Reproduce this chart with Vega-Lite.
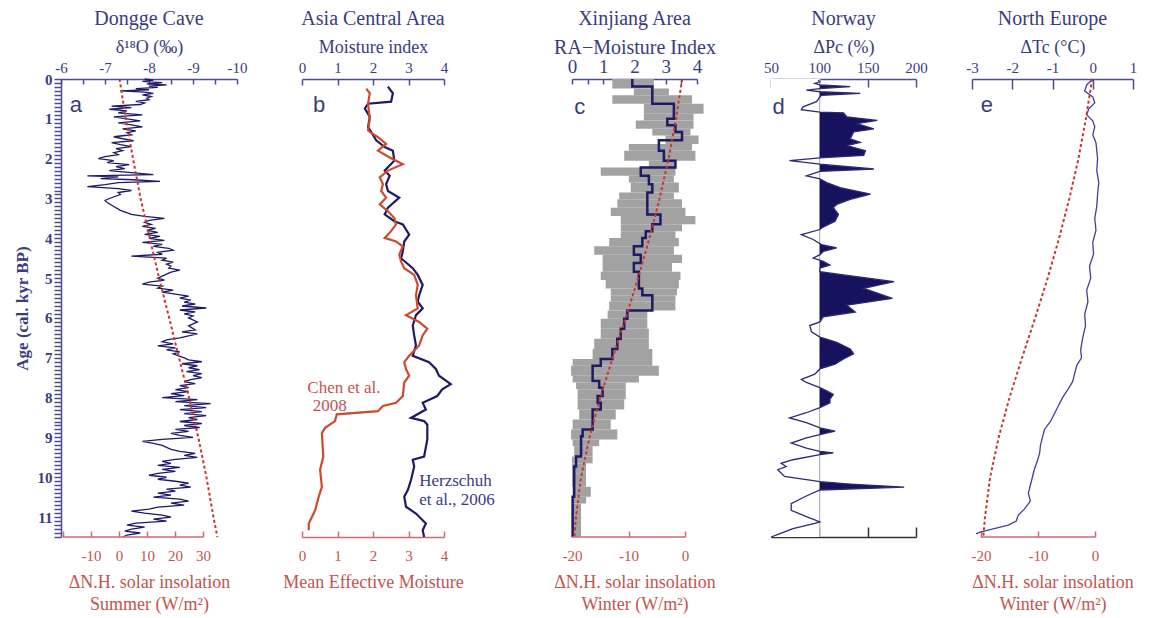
{
"$schema":"https://vega.github.io/schema/vega-lite/v6.json",
"background":"white",
"padding":{"left":13,"top":9,"right":5,"bottom":5},
"config":{
 "font":"Liberation Serif",
 "view":{"stroke":null},
 "axis":{"grid":false,"labelFont":"Liberation Serif","titleFont":"Liberation Serif","titleFontWeight":"normal","labelFlush":false,"labelOverlap":false,"domainWidth":1.5,"tickWidth":1.5,"zindex":1,"labelFontSize":15,"titleFontSize":18},
 "axisTop":{"domainColor":"#4b4d8e","tickColor":"#4b4d8e","labelColor":"#3a3c7c","titleColor":"#3a3c7c","tickSize":-6,"labelPadding":10,"titlePadding":4},
 "axisBottom":{"domainColor":"#d06a78","tickColor":"#d06a78","labelColor":"#c25450","titleColor":"#c25450","tickSize":-6,"labelPadding":17,"titlePadding":10,"titleLineHeight":22},
 "axisLeft":{"domainColor":"#4b4d8e","tickColor":"#4b4d8e","labelColor":"#3a3c7c","titleColor":"#3a3c7c"},
 "title":{"font":"Liberation Serif","fontSize":20,"fontWeight":"normal","color":"#3a3c7c","offset":9,"anchor":"middle"}
},
"datasets":{
 "dongge":[
  {"age":0,"d18O":-7.9},{"age":0.03,"d18O":-8.1},{"age":0.06,"d18O":-7.85},{"age":0.09,"d18O":-8.3},{"age":0.12,"d18O":-7.95},{"age":0.15,"d18O":-8.4},{"age":0.18,"d18O":-8.0},{"age":0.21,"d18O":-8.2},{"age":0.24,"d18O":-7.7},{"age":0.27,"d18O":-8.0},{"age":0.3,"d18O":-7.35},{"age":0.33,"d18O":-7.9},{"age":0.36,"d18O":-8.1},{"age":0.4,"d18O":-7.85},{"age":0.44,"d18O":-8.05},{"age":0.48,"d18O":-7.95},{"age":0.52,"d18O":-8.0},{"age":0.56,"d18O":-7.7},{"age":0.6,"d18O":-7.9},{"age":0.64,"d18O":-7.8},{"age":0.68,"d18O":-7.15},{"age":0.72,"d18O":-7.6},{"age":0.76,"d18O":-7.1},{"age":0.8,"d18O":-7.5},{"age":0.85,"d18O":-7.3},{"age":0.9,"d18O":-7.85},{"age":0.95,"d18O":-7.2},{"age":1.0,"d18O":-7.5},{"age":1.05,"d18O":-7.8},{"age":1.1,"d18O":-7.3},{"age":1.15,"d18O":-7.6},{"age":1.2,"d18O":-7.85},{"age":1.25,"d18O":-7.4},{"age":1.3,"d18O":-7.7},{"age":1.35,"d18O":-7.5},{"age":1.4,"d18O":-7.6},{"age":1.45,"d18O":-7.2},{"age":1.5,"d18O":-7.4},{"age":1.55,"d18O":-7.65},{"age":1.6,"d18O":-7.15},{"age":1.65,"d18O":-7.35},{"age":1.7,"d18O":-7.6},{"age":1.75,"d18O":-7.25},{"age":1.8,"d18O":-7.4},{"age":1.85,"d18O":-7.2},{"age":1.9,"d18O":-7.3},{"age":1.95,"d18O":-7.0},{"age":2.0,"d18O":-6.85},{"age":2.05,"d18O":-7.2},{"age":2.1,"d18O":-7.05},{"age":2.15,"d18O":-7.55},{"age":2.2,"d18O":-7.25},{"age":2.25,"d18O":-7.45},{"age":2.3,"d18O":-7.1},{"age":2.35,"d18O":-7.6},{"age":2.4,"d18O":-8.1},{"age":2.43,"d18O":-6.6},{"age":2.46,"d18O":-7.3},{"age":2.5,"d18O":-6.9},{"age":2.53,"d18O":-7.65},{"age":2.57,"d18O":-8.25},{"age":2.6,"d18O":-7.3},{"age":2.65,"d18O":-7.0},{"age":2.7,"d18O":-6.6},{"age":2.75,"d18O":-7.3},{"age":2.8,"d18O":-7.6},{"age":2.85,"d18O":-7.3},{"age":2.9,"d18O":-7.35},{"age":3.0,"d18O":-7.1},{"age":3.05,"d18O":-7.0},{"age":3.1,"d18O":-7.05},{"age":3.2,"d18O":-7.2},{"age":3.3,"d18O":-7.35},{"age":3.4,"d18O":-7.6},{"age":3.45,"d18O":-7.9},{"age":3.5,"d18O":-8.35},{"age":3.55,"d18O":-8.0},{"age":3.6,"d18O":-7.9},{"age":3.65,"d18O":-8.05},{"age":3.7,"d18O":-7.85},{"age":3.75,"d18O":-8.15},{"age":3.8,"d18O":-7.95},{"age":3.85,"d18O":-8.2},{"age":3.9,"d18O":-7.9},{"age":3.95,"d18O":-8.25},{"age":4.0,"d18O":-8.0},{"age":4.05,"d18O":-8.35},{"age":4.1,"d18O":-7.85},{"age":4.15,"d18O":-8.3},{"age":4.2,"d18O":-8.1},{"age":4.25,"d18O":-8.45},{"age":4.3,"d18O":-8.55},{"age":4.35,"d18O":-8.2},{"age":4.4,"d18O":-8.3},{"age":4.45,"d18O":-7.6},{"age":4.5,"d18O":-8.4},{"age":4.55,"d18O":-8.3},{"age":4.6,"d18O":-8.55},{"age":4.65,"d18O":-8.4},{"age":4.7,"d18O":-8.5},{"age":4.75,"d18O":-8.45},{"age":4.8,"d18O":-8.7},{"age":4.85,"d18O":-8.5},{"age":4.9,"d18O":-8.4},{"age":4.95,"d18O":-8.3},{"age":5.0,"d18O":-8.2},{"age":5.05,"d18O":-8.35},{"age":5.1,"d18O":-8.0},{"age":5.15,"d18O":-7.85},{"age":5.2,"d18O":-8.3},{"age":5.25,"d18O":-8.2},{"age":5.3,"d18O":-8.55},{"age":5.35,"d18O":-8.3},{"age":5.4,"d18O":-8.6},{"age":5.45,"d18O":-8.9},{"age":5.5,"d18O":-8.7},{"age":5.55,"d18O":-8.95},{"age":5.6,"d18O":-8.8},{"age":5.65,"d18O":-9.05},{"age":5.7,"d18O":-8.75},{"age":5.75,"d18O":-9.3},{"age":5.8,"d18O":-8.7},{"age":5.85,"d18O":-9.05},{"age":5.9,"d18O":-8.8},{"age":5.95,"d18O":-9.0},{"age":6.0,"d18O":-8.9},{"age":6.1,"d18O":-9.1},{"age":6.2,"d18O":-8.9},{"age":6.3,"d18O":-9.05},{"age":6.35,"d18O":-8.75},{"age":6.4,"d18O":-9.1},{"age":6.5,"d18O":-8.7},{"age":6.55,"d18O":-8.4},{"age":6.6,"d18O":-8.3},{"age":6.65,"d18O":-8.55},{"age":6.7,"d18O":-8.2},{"age":6.75,"d18O":-8.6},{"age":6.8,"d18O":-8.4},{"age":6.85,"d18O":-8.7},{"age":6.9,"d18O":-8.55},{"age":7.0,"d18O":-8.8},{"age":7.05,"d18O":-8.9},{"age":7.1,"d18O":-9.2},{"age":7.15,"d18O":-8.75},{"age":7.2,"d18O":-9.1},{"age":7.25,"d18O":-8.9},{"age":7.3,"d18O":-9.15},{"age":7.35,"d18O":-8.85},{"age":7.4,"d18O":-9.2},{"age":7.45,"d18O":-9.0},{"age":7.5,"d18O":-9.2},{"age":7.55,"d18O":-8.95},{"age":7.6,"d18O":-8.8},{"age":7.65,"d18O":-9.05},{"age":7.7,"d18O":-8.7},{"age":7.75,"d18O":-8.9},{"age":7.8,"d18O":-8.6},{"age":7.85,"d18O":-8.9},{"age":7.9,"d18O":-8.5},{"age":7.95,"d18O":-8.8},{"age":8.0,"d18O":-8.3},{"age":8.05,"d18O":-9.1},{"age":8.1,"d18O":-8.6},{"age":8.15,"d18O":-9.4},{"age":8.2,"d18O":-8.8},{"age":8.25,"d18O":-9.3},{"age":8.3,"d18O":-8.7},{"age":8.35,"d18O":-9.2},{"age":8.4,"d18O":-8.8},{"age":8.45,"d18O":-9.3},{"age":8.5,"d18O":-8.9},{"age":8.55,"d18O":-9.1},{"age":8.6,"d18O":-8.7},{"age":8.65,"d18O":-9.2},{"age":8.7,"d18O":-8.8},{"age":8.75,"d18O":-9.15},{"age":8.8,"d18O":-8.6},{"age":8.85,"d18O":-8.9},{"age":8.9,"d18O":-8.5},{"age":8.95,"d18O":-8.7},{"age":9.0,"d18O":-9.0},{"age":9.05,"d18O":-8.3},{"age":9.1,"d18O":-7.85},{"age":9.15,"d18O":-8.1},{"age":9.2,"d18O":-8.3},{"age":9.3,"d18O":-8.5},{"age":9.35,"d18O":-8.7},{"age":9.4,"d18O":-9.05},{"age":9.45,"d18O":-8.8},{"age":9.5,"d18O":-9.1},{"age":9.55,"d18O":-8.6},{"age":9.6,"d18O":-8.3},{"age":9.65,"d18O":-8.5},{"age":9.7,"d18O":-8.2},{"age":9.75,"d18O":-8.7},{"age":9.8,"d18O":-8.3},{"age":9.85,"d18O":-8.6},{"age":9.9,"d18O":-8.2},{"age":9.95,"d18O":-8.0},{"age":10.0,"d18O":-8.4},{"age":10.05,"d18O":-8.2},{"age":10.1,"d18O":-8.6},{"age":10.15,"d18O":-8.9},{"age":10.2,"d18O":-8.7},{"age":10.25,"d18O":-8.95},{"age":10.3,"d18O":-8.4},{"age":10.35,"d18O":-8.6},{"age":10.4,"d18O":-8.2},{"age":10.45,"d18O":-8.5},{"age":10.5,"d18O":-8.1},{"age":10.55,"d18O":-8.7},{"age":10.6,"d18O":-8.9},{"age":10.65,"d18O":-8.5},{"age":10.7,"d18O":-8.8},{"age":10.75,"d18O":-8.2},{"age":10.8,"d18O":-8.0},{"age":10.85,"d18O":-7.6},{"age":10.9,"d18O":-7.9},{"age":10.95,"d18O":-8.3},{"age":11.0,"d18O":-8.5},{"age":11.05,"d18O":-8.1},{"age":11.1,"d18O":-8.4},{"age":11.15,"d18O":-7.7},{"age":11.2,"d18O":-7.5},{"age":11.25,"d18O":-7.9},{"age":11.3,"d18O":-7.6},{"age":11.35,"d18O":-7.45},{"age":11.4,"d18O":-7.8},{"age":11.45,"d18O":-7.5},{"age":11.5,"d18O":-7.4}
 ],
 "summer":[
  {"age":0,"ins":0.2},{"age":1,"ins":2.4},{"age":2,"ins":5.0},{"age":3,"ins":7.7},{"age":4,"ins":11.0},{"age":5,"ins":14.3},{"age":6,"ins":17.9},{"age":7,"ins":21.4},{"age":8,"ins":25.0},{"age":9,"ins":28.3},{"age":10,"ins":31.2},{"age":11,"ins":33.7},{"age":11.5,"ins":35.1}
 ],
 "herz":[
  {"age":0.19,"mi":2.42},{"age":0.36,"mi":2.56},{"age":0.57,"mi":2.51},{"age":0.62,"mi":1.86},{"age":0.74,"mi":1.77},{"age":0.95,"mi":1.91},{"age":1.21,"mi":1.86},{"age":1.33,"mi":1.95},{"age":1.54,"mi":2.09},{"age":1.71,"mi":2.33},{"age":1.8,"mi":2.56},{"age":2.05,"mi":2.6},{"age":2.3,"mi":2.33},{"age":2.43,"mi":2.47},{"age":2.64,"mi":2.37},{"age":2.81,"mi":2.42},{"age":2.98,"mi":2.74},{"age":3.23,"mi":2.42},{"age":3.4,"mi":2.33},{"age":3.57,"mi":2.6},{"age":3.65,"mi":2.84},{"age":3.91,"mi":3.02},{"age":4.08,"mi":2.88},{"age":4.33,"mi":2.84},{"age":4.5,"mi":2.79},{"age":4.75,"mi":3.12},{"age":4.92,"mi":3.26},{"age":5.17,"mi":3.4},{"age":5.43,"mi":3.3},{"age":5.59,"mi":3.26},{"age":5.76,"mi":3.4},{"age":5.93,"mi":3.21},{"age":6.19,"mi":3.12},{"age":6.44,"mi":3.16},{"age":6.69,"mi":3.21},{"age":6.95,"mi":3.12},{"age":7.11,"mi":3.58},{"age":7.28,"mi":3.77},{"age":7.45,"mi":3.86},{"age":7.66,"mi":4.19},{"age":7.79,"mi":3.95},{"age":7.96,"mi":3.81},{"age":8.13,"mi":3.4},{"age":8.3,"mi":3.49},{"age":8.51,"mi":3.07},{"age":8.59,"mi":3.44},{"age":8.68,"mi":3.53},{"age":9.05,"mi":3.53},{"age":9.48,"mi":3.44},{"age":9.56,"mi":3.12},{"age":9.73,"mi":3.16},{"age":10.07,"mi":3.07},{"age":10.32,"mi":2.98},{"age":10.49,"mi":2.88},{"age":10.74,"mi":2.93},{"age":10.91,"mi":3.21},{"age":11.16,"mi":3.49},{"age":11.33,"mi":3.4},{"age":11.5,"mi":3.44}
 ],
 "chen":[
  {"age":0.24,"mem":1.81},{"age":0.36,"mem":1.91},{"age":0.62,"mem":1.86},{"age":1.0,"mem":1.91},{"age":1.29,"mem":1.86},{"age":1.33,"mem":1.91},{"age":1.46,"mem":2.14},{"age":1.63,"mem":2.37},{"age":1.8,"mem":2.14},{"age":1.97,"mem":2.47},{"age":2.14,"mem":2.84},{"age":2.3,"mem":2.42},{"age":2.47,"mem":2.19},{"age":2.64,"mem":2.28},{"age":2.81,"mem":2.23},{"age":2.98,"mem":2.37},{"age":3.15,"mem":2.19},{"age":3.32,"mem":2.42},{"age":3.49,"mem":2.6},{"age":3.65,"mem":2.65},{"age":3.82,"mem":2.51},{"age":3.99,"mem":2.33},{"age":4.08,"mem":2.65},{"age":4.2,"mem":2.84},{"age":4.41,"mem":2.74},{"age":4.58,"mem":2.79},{"age":4.75,"mem":2.88},{"age":4.92,"mem":3.16},{"age":5.17,"mem":3.26},{"age":5.43,"mem":3.21},{"age":5.76,"mem":3.26},{"age":5.93,"mem":2.93},{"age":6.1,"mem":3.3},{"age":6.27,"mem":3.53},{"age":6.44,"mem":3.4},{"age":6.69,"mem":3.3},{"age":6.95,"mem":3.02},{"age":7.11,"mem":2.88},{"age":7.28,"mem":2.93},{"age":7.45,"mem":3.02},{"age":7.62,"mem":2.88},{"age":7.96,"mem":2.84},{"age":8.13,"mem":2.65},{"age":8.21,"mem":2.28},{"age":8.34,"mem":2.14},{"age":8.42,"mem":0.98},{"age":8.59,"mem":0.93},{"age":8.76,"mem":0.65},{"age":8.89,"mem":0.56},{"age":9.48,"mem":0.6},{"age":9.81,"mem":0.51},{"age":10.24,"mem":0.56},{"age":10.49,"mem":0.47},{"age":10.83,"mem":0.37},{"age":11.16,"mem":0.19},{"age":11.33,"mem":0.19}
 ],
 "xjband":[
  {"a0":0,"a1":0.24,"lo":1.29,"hi":2.62},{"a0":0.24,"a1":0.41,"lo":1.98,"hi":3.1},{"a0":0.41,"a1":0.62,"lo":1.29,"hi":3.84},{"a0":0.62,"a1":0.87,"lo":2.3,"hi":4.21},{"a0":0.87,"a1":1.04,"lo":2.3,"hi":3.89},{"a0":1.04,"a1":1.25,"lo":2.04,"hi":3.89},{"a0":1.25,"a1":1.42,"lo":2.57,"hi":3.79},{"a0":1.42,"a1":1.63,"lo":2.99,"hi":4.05},{"a0":1.63,"a1":1.8,"lo":1.82,"hi":3.84},{"a0":1.8,"a1":2.05,"lo":1.67,"hi":3.95},{"a0":2.05,"a1":2.22,"lo":2.46,"hi":3.31},{"a0":2.22,"a1":2.43,"lo":0.92,"hi":3.31},{"a0":2.43,"a1":2.6,"lo":1.82,"hi":3.26},{"a0":2.6,"a1":2.85,"lo":1.88,"hi":3.42},{"a0":2.85,"a1":3.02,"lo":1.51,"hi":3.26},{"a0":3.02,"a1":3.23,"lo":1.45,"hi":3.52},{"a0":3.23,"a1":3.44,"lo":1.24,"hi":3.63},{"a0":3.44,"a1":3.65,"lo":1.56,"hi":3.95},{"a0":3.65,"a1":3.82,"lo":1.56,"hi":3.52},{"a0":3.82,"a1":3.99,"lo":1.56,"hi":3.31},{"a0":3.99,"a1":4.2,"lo":1.19,"hi":3.42},{"a0":4.2,"a1":4.41,"lo":0.71,"hi":3.26},{"a0":4.41,"a1":4.62,"lo":0.98,"hi":3.52},{"a0":4.62,"a1":4.84,"lo":0.98,"hi":3.2},{"a0":4.84,"a1":5.05,"lo":0.92,"hi":3.47},{"a0":5.05,"a1":5.26,"lo":1.08,"hi":3.42},{"a0":5.26,"a1":5.43,"lo":1.24,"hi":3.36},{"a0":5.43,"a1":5.59,"lo":1.24,"hi":3.31},{"a0":5.59,"a1":5.81,"lo":1.19,"hi":3.31},{"a0":5.81,"a1":6.02,"lo":1.14,"hi":2.41},{"a0":6.02,"a1":6.27,"lo":0.92,"hi":2.41},{"a0":6.27,"a1":6.52,"lo":0.92,"hi":2.46},{"a0":6.52,"a1":6.78,"lo":0.71,"hi":2.46},{"a0":6.78,"a1":7.03,"lo":0.66,"hi":2.57},{"a0":7.03,"a1":7.2,"lo":0.02,"hi":2.57},{"a0":7.2,"a1":7.45,"lo":-0.03,"hi":2.78},{"a0":7.45,"a1":7.62,"lo":0.02,"hi":2.14},{"a0":7.62,"a1":7.79,"lo":0.13,"hi":1.72},{"a0":7.79,"a1":8.04,"lo":0.18,"hi":1.72},{"a0":8.04,"a1":8.3,"lo":0.18,"hi":1.67},{"a0":8.3,"a1":8.55,"lo":0.23,"hi":1.4},{"a0":8.55,"a1":8.8,"lo":0.02,"hi":1.24},{"a0":8.8,"a1":9.05,"lo":-0.03,"hi":1.45},{"a0":9.05,"a1":9.22,"lo":0.02,"hi":0.87},{"a0":9.22,"a1":9.48,"lo":0.07,"hi":0.66},{"a0":9.48,"a1":9.65,"lo":0.0,"hi":0.66},{"a0":9.65,"a1":9.9,"lo":0.0,"hi":0.45},{"a0":9.9,"a1":10.24,"lo":0.0,"hi":0.45},{"a0":10.24,"a1":10.49,"lo":0.02,"hi":0.6},{"a0":10.49,"a1":10.66,"lo":0.02,"hi":0.45},{"a0":10.66,"a1":11.5,"lo":0.0,"hi":0.29}
 ],
 "xjra":[
  {"age":0,"ra":1.93},{"age":0.19,"ra":2.57},{"age":0.62,"ra":3.26},{"age":1.0,"ra":3.05},{"age":1.16,"ra":3.31},{"age":1.33,"ra":3.52},{"age":1.54,"ra":2.78},{"age":1.8,"ra":2.94},{"age":2.05,"ra":3.31},{"age":2.22,"ra":2.2},{"age":2.43,"ra":2.46},{"age":2.64,"ra":2.57},{"age":2.85,"ra":2.41},{"age":3.4,"ra":2.83},{"age":3.65,"ra":2.57},{"age":3.82,"ra":2.36},{"age":3.99,"ra":2.25},{"age":4.2,"ra":1.98},{"age":4.41,"ra":2.2},{"age":4.62,"ra":1.98},{"age":4.84,"ra":2.14},{"age":5.26,"ra":2.25},{"age":5.43,"ra":2.57},{"age":5.81,"ra":1.77},{"age":6.02,"ra":1.67},{"age":6.27,"ra":1.56},{"age":6.52,"ra":1.45},{"age":6.78,"ra":1.29},{"age":7.03,"ra":0.92},{"age":7.2,"ra":0.66},{"age":7.58,"ra":0.87},{"age":7.75,"ra":0.98},{"age":7.96,"ra":0.82},{"age":8.13,"ra":0.92},{"age":8.3,"ra":0.66},{"age":8.8,"ra":0.34},{"age":8.97,"ra":0.29},{"age":9.48,"ra":0.13},{"age":9.73,"ra":0.07},{"age":10.49,"ra":0.02},{"age":11.5,"ra":0.02}
 ],
 "winter":[
  {"age":0,"ins":-0.5},{"age":1,"ins":-1.6},{"age":2,"ins":-2.9},{"age":3,"ins":-4.5},{"age":4,"ins":-6.3},{"age":5,"ins":-8.3},{"age":6,"ins":-10.5},{"age":7,"ins":-12.8},{"age":8,"ins":-15.0},{"age":9,"ins":-16.9},{"age":10,"ins":-18.4},{"age":11,"ins":-19.3},{"age":11.5,"ins":-19.6}
 ],
 "norway":[
  {"age":0.03,"p":98.8},{"age":0.07,"p":100.6},{"age":0.11,"p":95.3},{"age":0.15,"p":100.6},{"age":0.19,"p":132.0},{"age":0.24,"p":100.6},{"age":0.28,"p":86.6},{"age":0.32,"p":100.6},{"age":0.36,"p":142.4},{"age":0.41,"p":102.3},{"age":0.45,"p":100.6},{"age":0.57,"p":97.1},{"age":0.7,"p":83.1},{"age":0.77,"p":81.4},{"age":0.83,"p":100.6},{"age":0.85,"p":125.0},{"age":0.95,"p":128.5},{"age":1.04,"p":159.9},{"age":1.12,"p":138.9},{"age":1.25,"p":156.4},{"age":1.33,"p":135.5},{"age":1.5,"p":132.0},{"age":1.59,"p":142.4},{"age":1.67,"p":128.5},{"age":1.8,"p":147.7},{"age":1.92,"p":145.9},{"age":1.98,"p":100.6},{"age":2.05,"p":69.2},{"age":2.14,"p":100.6},{"age":2.26,"p":156.4},{"age":2.32,"p":100.6},{"age":2.43,"p":86.6},{"age":2.51,"p":100.6},{"age":2.6,"p":107.6},{"age":2.73,"p":121.5},{"age":2.89,"p":152.9},{"age":3.02,"p":132.0},{"age":3.15,"p":118.0},{"age":3.23,"p":114.5},{"age":3.4,"p":119.8},{"age":3.57,"p":116.3},{"age":3.74,"p":102.3},{"age":3.78,"p":100.6},{"age":3.91,"p":81.4},{"age":4.03,"p":93.6},{"age":4.16,"p":102.3},{"age":4.24,"p":118.0},{"age":4.33,"p":104.1},{"age":4.41,"p":100.6},{"age":4.5,"p":93.6},{"age":4.58,"p":104.1},{"age":4.67,"p":111.0},{"age":4.75,"p":100.6},{"age":4.84,"p":100.6},{"age":4.92,"p":125.0},{"age":5.09,"p":177.3},{"age":5.26,"p":145.9},{"age":5.51,"p":175.6},{"age":5.68,"p":128.5},{"age":5.85,"p":137.2},{"age":5.97,"p":104.1},{"age":6.1,"p":100.6},{"age":6.19,"p":90.1},{"age":6.35,"p":91.9},{"age":6.48,"p":100.6},{"age":6.61,"p":118.0},{"age":6.78,"p":132.0},{"age":6.9,"p":135.5},{"age":7.03,"p":125.0},{"age":7.16,"p":116.3},{"age":7.28,"p":100.6},{"age":7.41,"p":95.3},{"age":7.54,"p":81.4},{"age":7.62,"p":86.6},{"age":7.75,"p":100.6},{"age":7.83,"p":107.6},{"age":7.92,"p":114.5},{"age":8.04,"p":111.0},{"age":8.13,"p":111.0},{"age":8.25,"p":100.6},{"age":8.38,"p":86.6},{"age":8.51,"p":69.2},{"age":8.63,"p":86.6},{"age":8.76,"p":100.6},{"age":8.84,"p":116.3},{"age":8.93,"p":100.6},{"age":9.01,"p":86.6},{"age":9.14,"p":70.9},{"age":9.27,"p":86.6},{"age":9.35,"p":100.6},{"age":9.39,"p":114.5},{"age":9.43,"p":100.6},{"age":9.56,"p":72.7},{"age":9.65,"p":60.5},{"age":9.73,"p":65.7},{"age":9.81,"p":57.0},{"age":9.98,"p":64.0},{"age":10.11,"p":100.6},{"age":10.17,"p":132.0},{"age":10.25,"p":187.8},{"age":10.32,"p":100.6},{"age":10.49,"p":84.9},{"age":10.66,"p":70.9},{"age":10.83,"p":70.9},{"age":10.99,"p":86.6},{"age":11.12,"p":100.6},{"age":11.16,"p":95.3},{"age":11.29,"p":72.7},{"age":11.42,"p":58.7},{"age":11.5,"p":50.0}
 ],
 "neur":[
  {"age":0,"dT":0.0},{"age":0.15,"dT":-0.15},{"age":0.3,"dT":-0.2},{"age":0.45,"dT":0.0},{"age":0.6,"dT":0.05},{"age":0.75,"dT":-0.1},{"age":0.9,"dT":-0.15},{"age":1.05,"dT":0.0},{"age":1.2,"dT":0.05},{"age":1.4,"dT":0.0},{"age":1.6,"dT":0.08},{"age":1.8,"dT":0.1},{"age":2.0,"dT":0.12},{"age":2.3,"dT":0.1},{"age":2.6,"dT":0.15},{"age":2.9,"dT":0.12},{"age":3.2,"dT":0.1},{"age":3.5,"dT":0.05},{"age":3.8,"dT":0.08},{"age":4.1,"dT":0.0},{"age":4.4,"dT":0.02},{"age":4.7,"dT":-0.08},{"age":5.0,"dT":-0.05},{"age":5.3,"dT":-0.15},{"age":5.6,"dT":-0.12},{"age":5.9,"dT":-0.2},{"age":6.2,"dT":-0.18},{"age":6.5,"dT":-0.25},{"age":6.8,"dT":-0.3},{"age":7.0,"dT":-0.28},{"age":7.2,"dT":-0.4},{"age":7.4,"dT":-0.45},{"age":7.6,"dT":-0.5},{"age":7.8,"dT":-0.62},{"age":8.0,"dT":-0.75},{"age":8.2,"dT":-0.85},{"age":8.4,"dT":-0.95},{"age":8.6,"dT":-1.05},{"age":8.8,"dT":-1.2},{"age":9.0,"dT":-1.25},{"age":9.2,"dT":-1.3},{"age":9.4,"dT":-1.32},{"age":9.6,"dT":-1.38},{"age":9.8,"dT":-1.45},{"age":10.0,"dT":-1.5},{"age":10.2,"dT":-1.55},{"age":10.4,"dT":-1.6},{"age":10.6,"dT":-1.55},{"age":10.8,"dT":-1.7},{"age":10.95,"dT":-1.85},{"age":11.1,"dT":-1.9},{"age":11.2,"dT":-2.1},{"age":11.3,"dT":-2.5},{"age":11.38,"dT":-2.8},{"age":11.42,"dT":-2.9}
 ]
},
"spacing":0,
"bounds":"flush",
"hconcat":[
 {
  "width":176,"height":458,
  "title":{"text":"Dongge Cave"},
  "layer":[
   {"data":{"name":"dongge"},
    "mark":{"type":"line","color":"#1d1a66","strokeWidth":1.3},
    "encoding":{
     "x":{"field":"d18O","type":"quantitative","scale":{"domain":[-10,-6],"reverse":true,"nice":false,"zero":false},
      "axis":{"orient":"top","title":"δ¹⁸O (‰)","values":[-6,-6.5,-7,-7.5,-8,-8.5,-9,-9.5,-10],
       "labelExpr":"datum.value % 1 === 0 ? '' + datum.value : ''","labelOverlap":false,"tickSize":-5,"labelPadding":9}},
     "y":{"field":"age","type":"quantitative","scale":{"domain":[0,11.5],"reverse":true,"nice":false,"zero":false},
      "axis":{"orient":"left","title":"Age (cal. kyr BP)","labelOverlap":false,
       "values":[0,0.1,0.2,0.3,0.4,0.5,0.6,0.7,0.8,0.9,1,1.1,1.2,1.3,1.4,1.5,1.6,1.7,1.8,1.9,2,2.1,2.2,2.3,2.4,2.5,2.6,2.7,2.8,2.9,3,3.1,3.2,3.3,3.4,3.5,3.6,3.7,3.8,3.9,4,4.1,4.2,4.3,4.4,4.5,4.6,4.7,4.8,4.9,5,5.1,5.2,5.3,5.4,5.5,5.6,5.7,5.8,5.9,6,6.1,6.2,6.3,6.4,6.5,6.6,6.7,6.8,6.9,7,7.1,7.2,7.3,7.4,7.5,7.6,7.7,7.8,7.9,8,8.1,8.2,8.3,8.4,8.5,8.6,8.7,8.8,8.9,9,9.1,9.2,9.3,9.4,9.5,9.6,9.7,9.8,9.9,10,10.1,10.2,10.3,10.4,10.5,10.6,10.7,10.8,10.9,11,11.1,11.2,11.3,11.4,11.5],
       "labelExpr":"datum.value % 1 === 0 ? '' + datum.value : ''",
       "ticks":true,"tickSize":7,"tickWidth":1.5,"tickColor":"#4b4d8e","labelFontWeight":"bold","titleFontWeight":"bold","labelPadding":2,"titlePadding":6,"labelFontSize":15,"titleFontSize":17}},
     "order":{"field":"age","type":"quantitative"}}},
   {"data":{"values":[{}]},"mark":{"type":"text","text":"a","font":"Liberation Sans","fontSize":22,"color":"#3a3c7c"},
    "encoding":{
     "x":{"datum":-6.34,"type":"quantitative","scale":{"domain":[-10,-6],"reverse":true,"nice":false,"zero":false},"axis":null},
     "y":{"datum":0.66,"type":"quantitative","scale":{"domain":[0,11.5],"reverse":true,"nice":false,"zero":false},"axis":null}}},
   {"data":{"name":"summer"},"mark":{"type":"line","color":"#c8372d","strokeWidth":2,"strokeDash":[3,2.5]},
    "encoding":{
     "x":{"field":"ins","type":"quantitative","scale":{"domain":[-20.7,42.1],"nice":false,"zero":false},
      "axis":{"orient":"bottom","title":["ΔN.H. solar insolation","Summer (W/m²)"],"values":[-20,-10,0,10,20,30],"labelExpr":"datum.value === -20 ? '' : '' + datum.value","labelOverlap":false,"domain":false}},
     "y":{"field":"age","type":"quantitative","scale":{"domain":[0,11.5],"reverse":true,"nice":false,"zero":false},"axis":null},
     "order":{"field":"age","type":"quantitative"}}},
   {"data":{"values":[{}]},"mark":{"type":"rule","color":"#d06a78","strokeWidth":1.5},
    "encoding":{
     "x":{"datum":-20,"type":"quantitative","scale":{"domain":[-20.7,42.1],"nice":false,"zero":false},"axis":null},
     "x2":{"datum":30},
     "y":{"datum":11.5,"type":"quantitative","scale":{"domain":[0,11.5],"reverse":true,"nice":false,"zero":false},"axis":null}}}
  ],
  "resolve":{"scale":{"x":"independent","y":"independent"}}
 },
 {"width":65,"height":458,"data":{"values":[]},"mark":"point"},
 {
  "width":142,"height":458,
  "title":{"text":"Asia Central Area"},
  "layer":[
   {"data":{"name":"herz"},"mark":{"type":"line","color":"#1d1a66","strokeWidth":2.2},
    "encoding":{
     "x":{"field":"mi","type":"quantitative","scale":{"domain":[0,4],"nice":false,"zero":false},
      "axis":{"orient":"top","title":"Moisture index","values":[0,1,2,3,4],"labelExpr":"'' + datum.value","labelOverlap":false}},
     "y":{"field":"age","type":"quantitative","scale":{"domain":[0,11.5],"reverse":true,"nice":false,"zero":false},"axis":null},
     "order":{"field":"age","type":"quantitative"}}},
   {"data":{"name":"chen"},"mark":{"type":"line","color":"#cc4a2e","strokeWidth":2.2},
    "encoding":{
     "x":{"field":"mem","type":"quantitative","scale":{"domain":[0,4],"nice":false,"zero":false},
      "axis":{"orient":"bottom","title":"Mean Effective Moisture","values":[0,1,2,3,4],"labelExpr":"'' + datum.value","labelOverlap":false}},
     "y":{"field":"age","type":"quantitative","scale":{"domain":[0,11.5],"reverse":true,"nice":false,"zero":false},"axis":null},
     "order":{"field":"age","type":"quantitative"}}},
   {"data":{"values":[{}]},"mark":{"type":"text","text":"b","font":"Liberation Sans","fontSize":22,"color":"#3a3c7c"},
    "encoding":{
     "x":{"datum":0.48,"type":"quantitative","scale":{"domain":[0,4],"nice":false,"zero":false},"axis":null},
     "y":{"datum":0.66,"type":"quantitative","scale":{"domain":[0,11.5],"reverse":true,"nice":false,"zero":false},"axis":null}}},
   {"data":{"values":[{}]},"mark":{"type":"text","text":"Herzschuh","align":"left","fontSize":17,"color":"#3a3c7c"},
    "encoding":{
     "x":{"datum":3.3,"type":"quantitative","scale":{"domain":[0,4],"nice":false,"zero":false},"axis":null},
     "y":{"datum":10.1,"type":"quantitative","scale":{"domain":[0,11.5],"reverse":true,"nice":false,"zero":false},"axis":null}}},
   {"data":{"values":[{}]},"mark":{"type":"text","text":"et al.,  2006","align":"left","fontSize":17,"color":"#3a3c7c"},
    "encoding":{
     "x":{"datum":3.3,"type":"quantitative","scale":{"domain":[0,4],"nice":false,"zero":false},"axis":null},
     "y":{"datum":10.58,"type":"quantitative","scale":{"domain":[0,11.5],"reverse":true,"nice":false,"zero":false},"axis":null}}},
   {"data":{"values":[{}]},"mark":{"type":"text","text":"Chen  et al.","align":"left","fontSize":17,"color":"#c25450"},
    "encoding":{
     "x":{"datum":0.15,"type":"quantitative","scale":{"domain":[0,4],"nice":false,"zero":false},"axis":null},
     "y":{"datum":7.75,"type":"quantitative","scale":{"domain":[0,11.5],"reverse":true,"nice":false,"zero":false},"axis":null}}},
   {"data":{"values":[{}]},"mark":{"type":"text","text":"2008","align":"left","fontSize":17,"color":"#c25450"},
    "encoding":{
     "x":{"datum":0.3,"type":"quantitative","scale":{"domain":[0,4],"nice":false,"zero":false},"axis":null},
     "y":{"datum":8.2,"type":"quantitative","scale":{"domain":[0,11.5],"reverse":true,"nice":false,"zero":false},"axis":null}}}
  ],
  "resolve":{"scale":{"x":"independent","y":"independent"}}
 },
 {"width":128,"height":458,"data":{"values":[]},"mark":"point"},
 {
  "width":125,"height":458,
  "title":{"text":"Xinjiang Area","offset":8},
  "layer":[
   {"data":{"name":"xjband"},"mark":{"type":"rect","color":"#a2a2a2"},
    "encoding":{
     "x":{"field":"lo","type":"quantitative","scale":{"domain":[0,4],"nice":false,"zero":false},"axis":null},
     "x2":{"field":"hi"},
     "y":{"field":"a0","type":"quantitative","scale":{"domain":[0,11.5],"reverse":true,"nice":false,"zero":false},"axis":null},
     "y2":{"field":"a1"}}},
   {"data":{"name":"xjra"},"mark":{"type":"line","color":"#1d1a66","strokeWidth":2.5,"interpolate":"step-before"},
    "encoding":{
     "x":{"field":"ra","type":"quantitative","scale":{"domain":[0,4],"nice":false,"zero":false},
      "axis":{"orient":"top","title":"RA−Moisture Index","values":[0,0.5,1,1.5,2,2.5,3,3.5,4],
       "labelExpr":"datum.value % 1 === 0 ? '' + datum.value : ''","labelOverlap":false,
       "tickSize":-5,"labelPadding":8,"labelFontSize":19,"titleFontSize":20,"titlePadding":0}},
     "y":{"field":"age","type":"quantitative","scale":{"domain":[0,11.5],"reverse":true,"nice":false,"zero":false},"axis":null},
     "order":{"field":"age","type":"quantitative"}}},
   {"data":{"values":[{}]},"mark":{"type":"text","text":"c","font":"Liberation Sans","fontSize":22,"color":"#3a3c7c"},
    "encoding":{
     "x":{"datum":0.25,"type":"quantitative","scale":{"domain":[0,4],"nice":false,"zero":false},"axis":null},
     "y":{"datum":0.7,"type":"quantitative","scale":{"domain":[0,11.5],"reverse":true,"nice":false,"zero":false},"axis":null}}},
   {"data":{"name":"winter"},"mark":{"type":"line","color":"#c8372d","strokeWidth":2,"strokeDash":[3,2.5]},
    "encoding":{
     "x":{"field":"ins","type":"quantitative","scale":{"domain":[-20,2.12],"nice":false,"zero":false},
      "axis":{"orient":"bottom","title":["ΔN.H. solar insolation","Winter (W/m²)"],"values":[-20,-10,0],"labelExpr":"'' + datum.value","labelOverlap":false,"domain":false}},
     "y":{"field":"age","type":"quantitative","scale":{"domain":[0,11.5],"reverse":true,"nice":false,"zero":false},"axis":null},
     "order":{"field":"age","type":"quantitative"}}},
   {"data":{"values":[{}]},"mark":{"type":"rule","color":"#d06a78","strokeWidth":1.5},
    "encoding":{
     "x":{"datum":-20,"type":"quantitative","scale":{"domain":[-20,2.12],"nice":false,"zero":false},"axis":null},
     "x2":{"datum":0},
     "y":{"datum":11.5,"type":"quantitative","scale":{"domain":[0,11.5],"reverse":true,"nice":false,"zero":false},"axis":null}}}
  ],
  "resolve":{"scale":{"x":"independent","y":"independent"}}
 },
 {"width":74,"height":458,"data":{"values":[]},"mark":"point"},
 {
  "width":145,"height":458,
  "title":{"text":"Norway"},
  "layer":[
   {"data":{"values":[{}]},"mark":{"type":"rule","color":"#cccccc","strokeWidth":2},
    "encoding":{
     "x":{"datum":100,"type":"quantitative","scale":{"domain":[50,200],"nice":false,"zero":false},
      "axis":{"orient":"bottom","values":[100,150,200],"labels":false,"title":null,"domainColor":"#333333","tickColor":"#333333","tickSize":-10}},
     "y":{"datum":0,"type":"quantitative","scale":{"domain":[0,11.5],"reverse":true,"nice":false,"zero":false},"axis":null},
     "y2":{"datum":11.5}}},
   {"data":{"name":"norway"},"mark":{"type":"area","color":"#17125e","orient":"horizontal"},
    "encoding":{
     "x":{"field":"p","type":"quantitative","scale":{"domain":[50,200],"nice":false,"zero":false},"axis":null},
     "x2":{"datum":100},
     "y":{"field":"age","type":"quantitative","scale":{"domain":[0,11.5],"reverse":true,"nice":false,"zero":false},"axis":null}}},
   {"data":{"values":[{}]},"mark":{"type":"rect","color":"white"},
    "encoding":{
     "x":{"datum":50,"type":"quantitative","scale":{"domain":[50,200],"nice":false,"zero":false},"axis":null},
     "x2":{"datum":100},
     "y":{"datum":0,"type":"quantitative","scale":{"domain":[0,11.5],"reverse":true,"nice":false,"zero":false},"axis":null},
     "y2":{"datum":11.5}}},
   {"data":{"name":"norway"},"mark":{"type":"line","color":"#2c2b72","strokeWidth":1.3},
    "encoding":{
     "x":{"field":"p","type":"quantitative","scale":{"domain":[50,200],"nice":false,"zero":false},
      "axis":{"orient":"top","title":"ΔPc (%)","values":[50,100,150,200],"labelExpr":"'' + datum.value","labelOverlap":false,"tickSize":-8,"labelPadding":12}},
     "y":{"field":"age","type":"quantitative","scale":{"domain":[0,11.5],"reverse":true,"nice":false,"zero":false},"axis":null},
     "order":{"field":"age","type":"quantitative"}}},
   {"data":{"values":[{}]},"mark":{"type":"text","text":"d","font":"Liberation Sans","fontSize":22,"color":"#3a3c7c"},
    "encoding":{
     "x":{"datum":58,"type":"quantitative","scale":{"domain":[50,200],"nice":false,"zero":false},"axis":null},
     "y":{"datum":0.7,"type":"quantitative","scale":{"domain":[0,11.5],"reverse":true,"nice":false,"zero":false},"axis":null}}}
  ],
  "resolve":{"scale":{"x":"independent","y":"independent"}}
 },
 {"width":56,"height":458,"data":{"values":[]},"mark":"point"},
 {
  "width":161,"height":458,
  "title":{"text":"North Europe"},
  "layer":[
   {"data":{"name":"neur"},"mark":{"type":"line","color":"#40409a","strokeWidth":1.3},
    "encoding":{
     "x":{"field":"dT","type":"quantitative","scale":{"domain":[-3,1],"nice":false,"zero":false},
      "axis":{"orient":"top","title":"ΔTc (°C)","values":[-3,-2,-1,0,1],"labelExpr":"'' + datum.value","labelOverlap":false,"tickSize":-10,"labelPadding":14}},
     "y":{"field":"age","type":"quantitative","scale":{"domain":[0,11.5],"reverse":true,"nice":false,"zero":false},"axis":null},
     "order":{"field":"age","type":"quantitative"}}},
   {"data":{"values":[{}]},"mark":{"type":"text","text":"e","font":"Liberation Sans","fontSize":22,"color":"#3a3c7c"},
    "encoding":{
     "x":{"datum":-2.63,"type":"quantitative","scale":{"domain":[-3,1],"nice":false,"zero":false},"axis":null},
     "y":{"datum":0.66,"type":"quantitative","scale":{"domain":[0,11.5],"reverse":true,"nice":false,"zero":false},"axis":null}}},
   {"data":{"name":"winter"},"mark":{"type":"line","color":"#c8372d","strokeWidth":2,"strokeDash":[3,2.5]},
    "encoding":{
     "x":{"field":"ins","type":"quantitative","scale":{"domain":[-21.58,6.67],"nice":false,"zero":false},
      "axis":{"orient":"bottom","title":["ΔN.H. solar insolation","Winter (W/m²)"],"values":[-20,-10,0],"labelExpr":"'' + datum.value","labelOverlap":false,"domain":false}},
     "y":{"field":"age","type":"quantitative","scale":{"domain":[0,11.5],"reverse":true,"nice":false,"zero":false},"axis":null},
     "order":{"field":"age","type":"quantitative"}}},
   {"data":{"values":[{}]},"mark":{"type":"rule","color":"#d06a78","strokeWidth":1.5},
    "encoding":{
     "x":{"datum":-20,"type":"quantitative","scale":{"domain":[-21.58,6.67],"nice":false,"zero":false},"axis":null},
     "x2":{"datum":0},
     "y":{"datum":11.5,"type":"quantitative","scale":{"domain":[0,11.5],"reverse":true,"nice":false,"zero":false},"axis":null}}}
  ],
  "resolve":{"scale":{"x":"independent","y":"independent"}}
 }
]
}
